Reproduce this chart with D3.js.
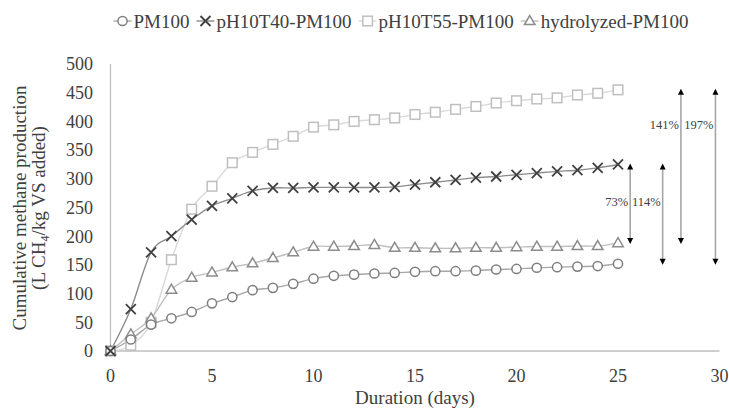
<!DOCTYPE html>
<html><head><meta charset="utf-8">
<script src="https://cdn.jsdelivr.net/npm/d3@7"></script>
<style>body{margin:0;background:#fff}svg{display:block}</style>
</head><body><svg id="c" width="729" height="409" font-family="'Liberation Serif', 'DejaVu Serif', 'Noto Serif', serif"></svg>
<script>
// ---- data ----
const days = [0,1,2,3,4,5,6,7,8,9,10,11,12,13,14,15,16,17,18,19,20,21,22,23,24,25];
const pm100      = [0,20,46,57,68,83,94,106,110,117,126,131,133,135,136,138,139,139,140,142,143,145,146,147,148,152];
const pH10T40    = [0,73,172,200,229,253,266,279,284,284,285,285,285,285,286,290,294,298,302,304,307,310,313,315,319,325];
const pH10T55    = [0,10,50,159,247,287,328,346,360,374,390,394,400,403,406,412,416,421,426,432,436,439,441,446,449,455];
const hydrolyzed = [0,29,57,107,128,137,146,153,162,172,182,182,183,185,180,180,179,179,180,180,181,182,182,183,183,188];
const seriesNames = ["PM100","pH10T40-PM100","pH10T55-PM100","hydrolyzed-PM100"];
const xTicks = [0,5,10,15,20,25,30];
const yTicks = [0,50,100,150,200,250,300,350,400,450,500];
const annLabels = ["73%","114%","141%","197%"];
const annFrom   = ["pH10T40-PM100","pH10T40-PM100","pH10T55-PM100","pH10T55-PM100"];
const annTo     = ["hydrolyzed-PM100","PM100","hydrolyzed-PM100","PM100"];

// ---- styles ----
const styles = {
  "PM100":           {line:"#a6a6a6", mk:"#7f7f7f", shape:"circle"},
  "pH10T40-PM100":   {line:"#8c8c8c", mk:"#404040", shape:"x"},
  "pH10T55-PM100":   {line:"#d9d9d9", mk:"#bfbfbf", shape:"square"},
  "hydrolyzed-PM100":{line:"#c0c0c0", mk:"#8c8c8c", shape:"triangle"}
};
const values = {"PM100":pm100,"pH10T40-PM100":pH10T40,"pH10T55-PM100":pH10T55,"hydrolyzed-PM100":hydrolyzed};
const annX = [25.6,27.2,28.1,29.8];
const annLabelY = [260,260,395,395];

const svg = d3.select("#c");
const x = d3.scaleLinear().domain([0,30]).range([110.5,719.5]);
const y = d3.scaleLinear().domain([0,500]).range([351,64]);
const textCol = "#404040";

svg.append("line").attr("x1",x(0)).attr("x2",x(0)).attr("y1",y(500)).attr("y2",y(0))
  .attr("stroke","#bfbfbf").attr("stroke-width",1.3);
svg.append("line").attr("x1",x(0)).attr("x2",x(30)).attr("y1",y(0)).attr("y2",y(0))
  .attr("stroke","#bfbfbf").attr("stroke-width",1.3);

svg.append("g").selectAll("text").data(yTicks).join("text")
  .attr("x",93).attr("y",d=>y(d)).attr("dy","0.35em").attr("text-anchor","end")
  .attr("font-size",18).attr("fill",textCol).text(d=>d);
svg.append("g").selectAll("text").data(xTicks).join("text")
  .attr("x",d=>x(d)).attr("y",376).attr("dy","0.35em").attr("text-anchor","middle")
  .attr("font-size",18).attr("fill",textCol).text(d=>d);

svg.append("text").attr("x",(x(0)+x(30))/2).attr("y",397).attr("dy","0.35em").attr("text-anchor","middle")
  .attr("font-size",19).attr("fill",textCol).text("Duration (days)");
const yt = svg.append("g").attr("transform","translate(0,208) rotate(-90)");
yt.append("text").attr("x",0).attr("y",26).attr("text-anchor","middle")
  .attr("font-size",19).attr("fill",textCol).text("Cumulative methane production");
const t2 = yt.append("text").attr("x",0).attr("y",45).attr("text-anchor","middle")
  .attr("font-size",19).attr("fill",textCol);
t2.append("tspan").text("(L CH");
t2.append("tspan").attr("font-size",12).attr("dy",4).text("4");
t2.append("tspan").attr("dy",-4).text("/kg VS added)");

function drawMarker(g, shape, col, cx, cy){
  if(shape==="circle"){
    g.append("circle").attr("cx",cx).attr("cy",cy).attr("r",4.6)
      .attr("fill","#fff").attr("stroke",col).attr("stroke-width",1.5);
  } else if(shape==="square"){
    g.append("rect").attr("x",cx-4.8).attr("y",cy-4.8).attr("width",9.6).attr("height",9.6)
      .attr("fill","#fff").attr("stroke",col).attr("stroke-width",1.5);
  } else if(shape==="triangle"){
    const h=9, w=10.5;
    g.append("path").attr("d",`M${cx},${cy-h*0.6}L${cx+w/2},${cy+h*0.4}L${cx-w/2},${cy+h*0.4}Z`)
      .attr("fill","#fff").attr("stroke",col).attr("stroke-width",1.5);
  } else {
    const s=5;
    g.append("path").attr("d",`M${cx-s},${cy-s}L${cx+s},${cy+s}M${cx-s},${cy+s}L${cx+s},${cy-s}`)
      .attr("fill","none").attr("stroke",col).attr("stroke-width",1.8);
  }
}

const lineGen = d3.line().x(d=>x(d[0])).y(d=>y(d[1])).curve(d3.curveCatmullRom.alpha(0));
const drawOrder = ["pH10T55-PM100","hydrolyzed-PM100","PM100","pH10T40-PM100"];
drawOrder.forEach(name=>{
  const pts = days.map((d,i)=>[d, values[name][i]]);
  svg.append("path").datum(pts).attr("d",lineGen).attr("fill","none")
    .attr("stroke",styles[name].line).attr("stroke-width",1.4);
});
drawOrder.forEach(name=>{
  const g = svg.append("g");
  days.forEach((d,i)=>drawMarker(g, styles[name].shape, styles[name].mk, x(d), y(values[name][i])));
});

const last = days.length-1;
annLabels.forEach((lab,i)=>{
  const ax = x(annX[i]);
  const y1 = y(values[annFrom[i]][last]);
  const y2 = y(values[annTo[i]][last]);
  svg.append("line").attr("x1",ax).attr("x2",ax).attr("y1",y1+3).attr("y2",y2-3)
    .attr("stroke","#a6a6a6").attr("stroke-width",1.6);
  svg.append("path").attr("d",`M${ax},${y1-1}L${ax+3},${y1+5}L${ax-3},${y1+5}Z`).attr("fill","#000");
  svg.append("path").attr("d",`M${ax},${y2+1}L${ax+3},${y2-5}L${ax-3},${y2-5}Z`).attr("fill","#000");
  svg.append("text").attr("x",ax-2).attr("y",y(annLabelY[i])).attr("dy","0.35em")
    .attr("text-anchor","end").attr("font-size",12.5).attr("fill",textCol).text(lab);
});

const lg = svg.append("g");
let cx = 0;
const items = [];
seriesNames.forEach(name=>{
  const it = lg.append("g");
  it.append("line").attr("x1",0).attr("x2",18).attr("y1",0).attr("y2",0)
    .attr("stroke",styles[name].line).attr("stroke-width",1.4);
  drawMarker(it, styles[name].shape, styles[name].mk, 9, 0);
  const t = it.append("text").attr("x",20).attr("y",0).attr("dy","0.35em")
    .attr("font-size",19).attr("fill",textCol).text(name);
  const w = 20 + t.node().getComputedTextLength();
  items.push({it, x:cx});
  cx += w + 7;
});
const total = cx - 7;
const startX = 401 - total/2;
items.forEach(o=>o.it.attr("transform",`translate(${startX+o.x},21)`));
</script></body></html>
